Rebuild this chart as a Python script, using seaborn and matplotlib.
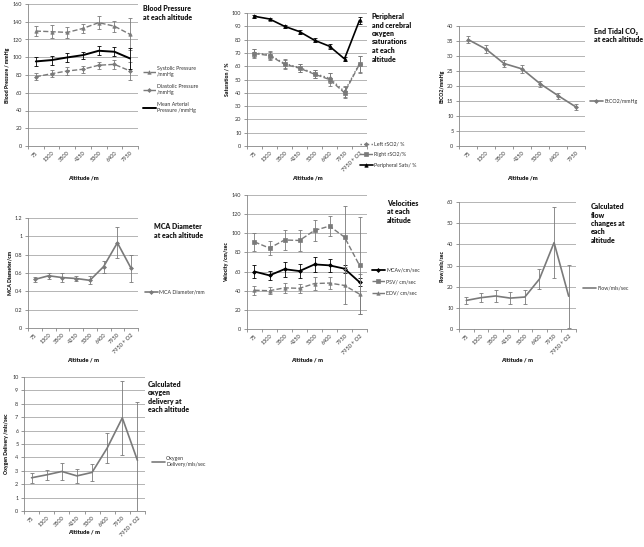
import numpy as np
import pandas as pd
import seaborn as sns
from matplotlib import pyplot as plt
from matplotlib.ticker import FixedLocator

# categories
alt7 = ['75', '1300', '3500', '4250', '5300', '6400', '7950']
alt8 = alt7 + ['7950 + O2']

# blood pressure
systolic = [129.5, 128.8, 128.0, 132.5, 139.0, 135.0, 125.7]
systolic_err = [6, 7, 6, 5, 7, 6, 18]
diastolic = [78.0, 81.5, 84.5, 86.5, 91.0, 92.0, 84.5]
diastolic_err = [4, 4, 5, 4, 4, 5, 10]
mean_arterial = [95.3, 96.8, 99.8, 102.4, 107.3, 106.2, 98.6]
mean_arterial_err = [5, 5, 5, 4, 5, 5, 12]

# saturations
left_rso2 = [70.0, 68.5, 62.0, 59.0, 54.5, 51.0, 41.0, 62.0]
left_rso2_err = [3, 3, 3.5, 3, 3, 4, 4, 6]
right_rso2 = [69.5, 68.0, 61.5, 58.5, 54.0, 50.0, 40.0, 61.5]
right_rso2_err = [3.5, 3, 3.5, 3, 3, 5, 4, 6.5]
peripheral = [97.5, 95.5, 90.0, 86.0, 79.5, 75.0, 65.5, 94.5]
peripheral_err = [1, 1, 1, 1.5, 1.5, 2, 1.5, 2.5]

# end tidal co2
etco2 = [35.5, 32.3, 27.5, 25.7, 20.8, 16.8, 13.0]
etco2_err = [1.3, 1.3, 1.2, 1.2, 1.0, 1.0, 1.0]

# mca diameter
mca_diam = [0.53, 0.57, 0.55, 0.54, 0.52, 0.67, 0.93, 0.65]
mca_diam_err = [0.03, 0.03, 0.045, 0.03, 0.045, 0.065, 0.17, 0.15]

# velocities
mcav = [60.0, 56.0, 62.5, 60.5, 67.5, 66.5, 63.0, 49.0]
mcav_err = [6.5, 5, 8, 7, 7.5, 6.5, 4, 4]
psv = [91.0, 84.5, 93.0, 92.5, 103.0, 107.5, 96.0, 66.5]
psv_err = [9, 7.5, 10.5, 10.5, 11, 10.5, 33, 51]
edv = [40.5, 40.0, 43.0, 42.5, 47.5, 48.0, 45.5, 36.5]
edv_err = [4.5, 3.5, 5, 5, 6.5, 6, 19, 21]

# flow and oxygen delivery
flow = [13.5, 14.8, 15.6, 14.6, 15.1, 23.6, 40.8, 15.5]
flow_err = [1.8, 2, 3, 2.8, 3.5, 4.8, 16.8, 14.8]
o2_delivery = [2.48, 2.70, 2.95, 2.62, 2.88, 4.70, 6.95, 3.78]
o2_delivery_err = [0.38, 0.38, 0.6, 0.5, 0.62, 1.1, 2.75, 4.35]

W, H = 644, 547
GRAY = '#7a7a7a'
BLACK = '#000000'
TXT = '#333333'

sns.set_style('white')
plt.rcParams['font.family'] = ['Lato', 'DejaVu Sans']

fig = plt.figure(figsize=(W / 100, H / 100), dpi=100, facecolor='white')


def panel(box, cats, ymax, ystep, ylabel, xlabel_top, title, title_xy,
          legend_xy, series, ytick_fmt=None, lspace=1.0):
    l, t, r, b = box
    ax = fig.add_axes([l / W, 1 - b / H, (r - l) / W, (b - t) / H])
    pos = np.arange(len(cats))
    handles, labels = [], []
    for s in series:
        df = pd.DataFrame({'pos': pos, 'val': s['values']})
        sns.lineplot(data=df, x='pos', y='val', ax=ax, color=s['color'],
                     linestyle=s.get('ls', '-'), linewidth=s.get('lw', 1.0),
                     marker=s.get('marker'), markersize=s.get('ms', 2.5),
                     markeredgecolor=s['color'], markerfacecolor=s['color'],
                     markeredgewidth=0.5)
        handles.append(ax.lines[-1])
        labels.append(s['label'])
        ax.errorbar(pos, s['values'], yerr=s['err'], fmt='none',
                    ecolor=s['color'], elinewidth=0.6, capsize=1.4,
                    capthick=0.6)
    ax.set_xlim(-0.5, len(cats) - 0.5)
    ax.set_ylim(0, ymax)
    yt = np.arange(0, ymax + ystep / 2, ystep)
    ax.set_yticks(yt)
    if ytick_fmt:
        ax.set_yticklabels([ytick_fmt(v) for v in yt])
    ax.yaxis.grid(True, color='#a8a8a8', linewidth=0.6)
    ax.xaxis.grid(False)
    ax.set_axisbelow(True)
    for sp in ['top', 'right']:
        ax.spines[sp].set_visible(False)
    for sp in ['left', 'bottom']:
        ax.spines[sp].set_color('#868686')
        ax.spines[sp].set_linewidth(0.6)
    ax.set_xticks(pos)
    ax.set_xticklabels(cats, rotation=45, ha='right', rotation_mode='anchor')
    ax.xaxis.set_minor_locator(FixedLocator(np.arange(len(cats) + 1) - 0.5))
    ax.tick_params(axis='x', which='major', length=0, pad=3,
                   labelsize=4, labelcolor=TXT)
    ax.tick_params(axis='x', which='minor', length=2, width=0.6,
                   color='#868686', direction='out', bottom=True)
    ax.tick_params(axis='y', length=2, width=0.6, color='#868686',
                   pad=2, labelsize=4, labelcolor=TXT, direction='out',
                   left=True)
    ax.set_xlabel('Altitude / m' if xlabel_top > 200 else 'Altitude /m',
                  fontsize=4.2, fontweight='heavy', color='#222222')
    ax.xaxis.set_label_coords(0.5, -(xlabel_top - b) / (b - t))
    ax.set_ylabel(ylabel, fontsize=3.7, fontweight='heavy', color='#222222',
                  labelpad=2)
    fig.text(title_xy[0] / W, 1 - title_xy[1] / H, title, fontsize=5,
             fontweight='heavy', va='top', ha='left', linespacing=1.25,
             color='#1a1a1a')
    ax.legend(handles, labels, loc='upper left',
              bbox_to_anchor=(legend_xy[0] / W, 1 - legend_xy[1] / H),
              bbox_transform=fig.transFigure, frameon=False, fontsize=3.8,
              handlelength=2.4, handletextpad=0.3, labelspacing=lspace,
              borderpad=0, borderaxespad=0, labelcolor=TXT)
    return ax


panel((28, 4, 138, 146), alt7, 160, 20, 'Blood Pressure / mmHg', 175,
      'Blood Pressure\nat each altitude', (143, 5), (143, 66),
      [dict(values=systolic, err=systolic_err, label='Systolic Pressure\n/mmHg',
            color=GRAY, ls='--', marker='^', ms=2.5),
       dict(values=diastolic, err=diastolic_err,
            label='Diastolic Pressure\n/mmHg', color=GRAY, ls='--',
            marker='D', ms=2),
       dict(values=mean_arterial, err=mean_arterial_err,
            label='Mean Arterial\nPressure /mmHg', color=BLACK, lw=1.4)],
      lspace=1.4)

panel((247, 13, 367, 146), alt8, 100, 10, 'Saturation / %', 176,
      'Peripheral\nand cerebral\noxygen\nsaturations\nat each\naltitude',
      (372, 13), (360, 142),
      [dict(values=left_rso2, err=left_rso2_err, label='Left rSO2/ %',
            color=GRAY, ls=':', marker='D', ms=2),
       dict(values=right_rso2, err=right_rso2_err, label='Right rSO2/%',
            color=GRAY, ls='--', marker='s', ms=2.8),
       dict(values=peripheral, err=peripheral_err, label='Peripheral Sats/ %',
            color=BLACK, marker='^', ms=2.5, lw=1.2)])

panel((459, 26, 585, 146), alt7, 40, 5, 'EtCO2/mmHg', 176,
      'End Tidal CO\u2082\nat each altitude', (594, 28), (590, 99),
      [dict(values=etco2, err=etco2_err, label='EtCO2/mmHg', color=GRAY,
            marker='D', ms=2, lw=1.2)])

panel((28, 218, 138, 328), alt8, 1.2, 0.2, 'MCA Diameter/cm', 358,
      'MCA Diameter\nat each altitude', (154, 223), (145, 290),
      [dict(values=mca_diam, err=mca_diam_err, label='MCA Diameter/mm',
            color=GRAY, marker='D', ms=2, lw=1.2)],
      ytick_fmt=lambda v: f'{v:g}')

panel((247, 195, 367, 329), alt8, 140, 20, 'Velocity /cm/sec', 358,
      'Velocities\nat each\naltitude', (387, 200), (372, 268),
      [dict(values=mcav, err=mcav_err, label='MCAv/cm/sec', color=BLACK,
            marker='D', ms=2, lw=1.3),
       dict(values=psv, err=psv_err, label='PSV/ cm/sec', color=GRAY,
            ls='--', marker='s', ms=2.8),
       dict(values=edv, err=edv_err, label='EDV/ cm/sec', color=GRAY,
            ls='--', marker='^', ms=2.5)],
      lspace=1.2)

panel((459, 202, 576, 329), alt8, 60, 10, 'Flow/mls/sec', 358,
      'Calculated\nflow\nchanges at\neach\naltitude', (591, 203), (583, 286),
      [dict(values=flow, err=flow_err, label='Flow/mls/sec', color=GRAY,
            lw=1.2)])

panel((24, 377, 145, 511), alt8, 10, 1, 'Oxygen Delivery /mls/sec', 530,
      'Calculated\noxygen\ndelivery at\neach altitude', (148, 381), (152, 456),
      [dict(values=o2_delivery, err=o2_delivery_err,
            label='Oxygen\nDelivery/mls/sec', color=GRAY, lw=1.2)])

fig.savefig('out.png', dpi=100, facecolor='white')
